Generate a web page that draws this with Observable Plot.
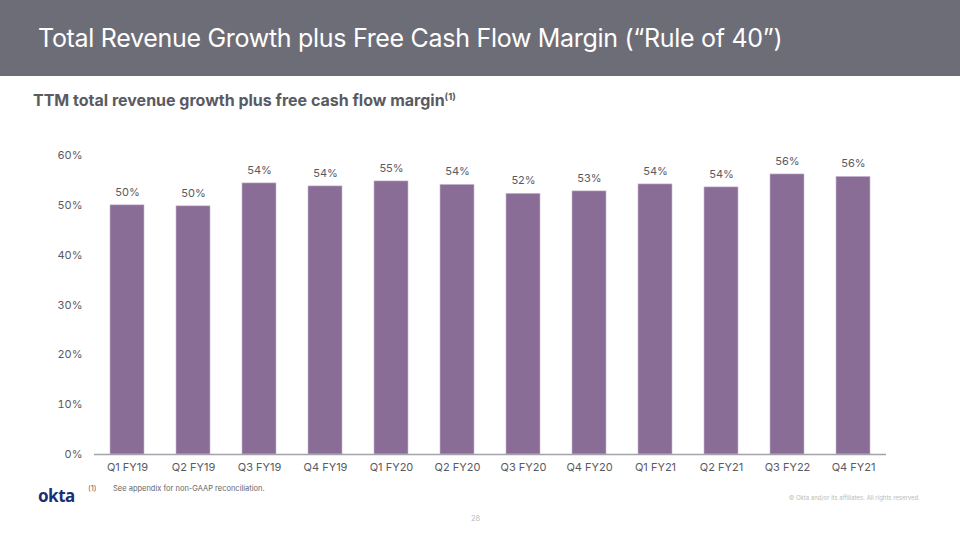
<!DOCTYPE html>
<html>
<head>
<meta charset="utf-8">
<script src="https://cdn.jsdelivr.net/npm/d3@7"></script>
<script src="https://cdn.jsdelivr.net/npm/@observablehq/plot@0.6"></script>
<style>
  html, body { margin: 0; padding: 0; background: #fff; }
  #page { position: relative; width: 960px; height: 540px; overflow: hidden; font-family: Inter, "Noto Sans", sans-serif; }
  #header { position: absolute; left: 0; top: 0; width: 960px; height: 76px; background: #6d6d78; }
  #title { position: absolute; left: 38px; top: 23px; color: #fff; font-size: 25px; font-weight: 400; letter-spacing: -0.3px; white-space: nowrap; }
  #subtitle { position: absolute; left: 33px; top: 90px; color: #5a5a62; font-size: 16px; font-weight: 700; white-space: nowrap; }
  #subtitle sup { font-size: 9.5px; font-weight: 700; }
  #chart { position: absolute; left: 0; top: 140px; }
  #foot1 { position: absolute; left: 88px; top: 484px; color: #666; font-size: 7.5px; white-space: nowrap; }
  #foot1 span { display: inline-block; width: 25px; }
  #copy { position: absolute; right: 40px; top: 494px; color: #bbb; font-size: 6px; white-space: nowrap; }
  #pagenum { position: absolute; left: 471px; top: 514px; color: #bbb; font-size: 7.5px; }
  #logo { position: absolute; left: 38px; top: 484px; color: #1d2f74; font-size: 17px; font-weight: 700; letter-spacing: -0.5px; font-family: "Noto Sans", Inter, sans-serif; }
</style>
</head>
<body>
<div id="page">
  <div id="header"></div>
  <div id="title">Total Revenue Growth plus Free Cash Flow Margin (“Rule of 40”)</div>
  <div id="subtitle">TTM total revenue growth plus free cash flow margin<sup>(1)</sup></div>
  <div id="chart"></div>
  <div id="logo">okta</div>
  <div id="foot1"><span>(1)</span>See appendix for non-GAAP reconciliation.</div>
  <div id="copy">© Okta and/or its affiliates. All rights reserved.</div>
  <div id="pagenum">28</div>
</div>
<script>
const quarters = ["Q1 FY19","Q2 FY19","Q3 FY19","Q4 FY19","Q1 FY20","Q2 FY20","Q3 FY20","Q4 FY20","Q1 FY21","Q2 FY21","Q3 FY22","Q4 FY21"];
const values = [50.0, 49.8, 54.4, 53.8, 54.8, 54.1, 52.3, 52.8, 54.2, 53.6, 56.2, 55.7];
const valueLabels = ["50%","50%","54%","54%","55%","54%","52%","53%","54%","54%","56%","56%"];
const yTicks = [0, 10, 20, 30, 40, 50, 60];

const data = quarters.map((q, i) => ({q, v: values[i], label: valueLabels[i]}));

const chart = Plot.plot({
  width: 960,
  height: 340,
  marginLeft: 94,
  marginRight: 74,
  marginTop: 15,
  marginBottom: 26,
  style: { fontFamily: "Inter, 'Noto Sans', sans-serif", fontSize: "11px", color: "#5a5a62", background: "transparent" },
  x: { domain: quarters, paddingInner: 0.485, paddingOuter: 0.2425, label: null, tickSize: 0, tickPadding: 9 },
  y: { domain: [0, 60], ticks: yTicks, tickFormat: d => d + "%", label: null, tickSize: 0, tickPadding: 12 },
  marks: [
    Plot.barY(data, { x: "q", y: "v", fill: "#8a6d96", stroke: "#c9b8d0", strokeWidth: 0.6 }),
    Plot.text(data, { x: "q", y: "v", text: "label", dy: -13, fill: "#5a5a62", fontSize: 11 }),
    Plot.ruleY([0], { stroke: "#a3a3ab", strokeWidth: 1.3 })
  ]
});
chart.querySelectorAll("[aria-label='x-axis tick label'] text, [aria-label='y-axis tick label'] text").forEach(t => t.setAttribute("fill", "#5a5a62"));
document.getElementById("chart").appendChild(chart);
</script>
</body>
</html>
